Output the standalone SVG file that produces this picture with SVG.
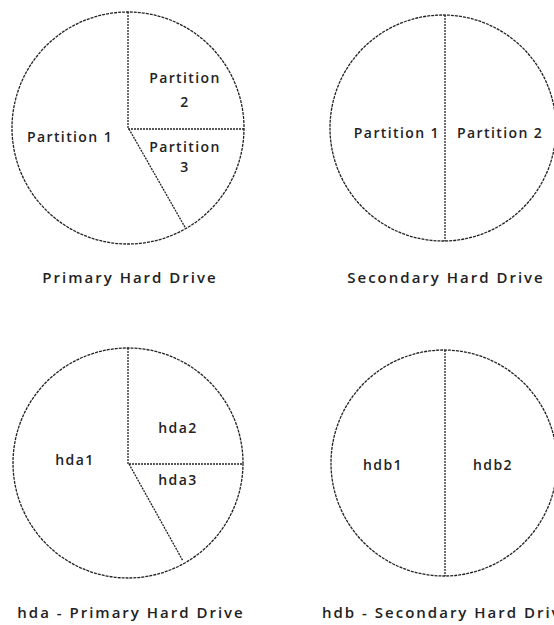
<svg xmlns="http://www.w3.org/2000/svg" width="554" height="625" viewBox="0 0 554 625">
<style>
.disk{fill:none;stroke:#222;stroke-width:1.3;stroke-dasharray:3 1}
.div{stroke:#222;stroke-width:1.3;stroke-dasharray:2 1;fill:none}
text{font-family:"Open Sans","DejaVu Sans",sans-serif;font-size:14px;font-weight:600;fill:#222;letter-spacing:1.4px}
.cap{font-size:15px;letter-spacing:2px}
.m{text-anchor:middle}
.e{text-anchor:end}
</style>
<rect width="554" height="625" fill="#fff"/>
<g id="primary">
<circle class="disk" cx="128" cy="128" r="116"/>
<text class="m" x="70" y="142">Partition 1</text>
<text class="m" x="185" y="83">Partition</text>
<text class="m" x="185" y="107">2</text>
<text class="m" x="185" y="152">Partition</text>
<text class="m" x="185" y="172">3</text>
<text class="m cap" x="130" y="283">Primary Hard Drive</text>
</g>
<g id="secondary">
<circle class="disk" cx="443" cy="128" r="113"/>
<text class="e" x="440" y="138">Partition 1</text>
<text x="457" y="138">Partition 2</text>
<text class="m cap" x="446" y="283">Secondary Hard Drive</text>
</g>
<g id="hda">
<circle class="disk" cx="128" cy="463" r="115"/>
<text class="m" x="75" y="465">hda1</text>
<text class="m" x="178" y="433">hda2</text>
<text class="m" x="178" y="485">hda3</text>
<text class="m cap" x="131" y="618">hda - Primary Hard Drive</text>
</g>
<g id="hdb">
<circle class="disk" cx="444" cy="463" r="113"/>
<text class="m" x="383" y="470">hdb1</text>
<text class="m" x="493" y="470">hdb2</text>
<text class="cap" x="322" y="618">hdb - Secondary Hard Drive</text>
</g>
<g id="connectors">
<path class="div" d="M128 12V129H244M129 129L186 229"/>
<path class="div" d="M445 15V241"/>
<path class="div" d="M128 348V464H243M129 464L183 561"/>
<path class="div" d="M445 350V576"/>
</g>
</svg>
